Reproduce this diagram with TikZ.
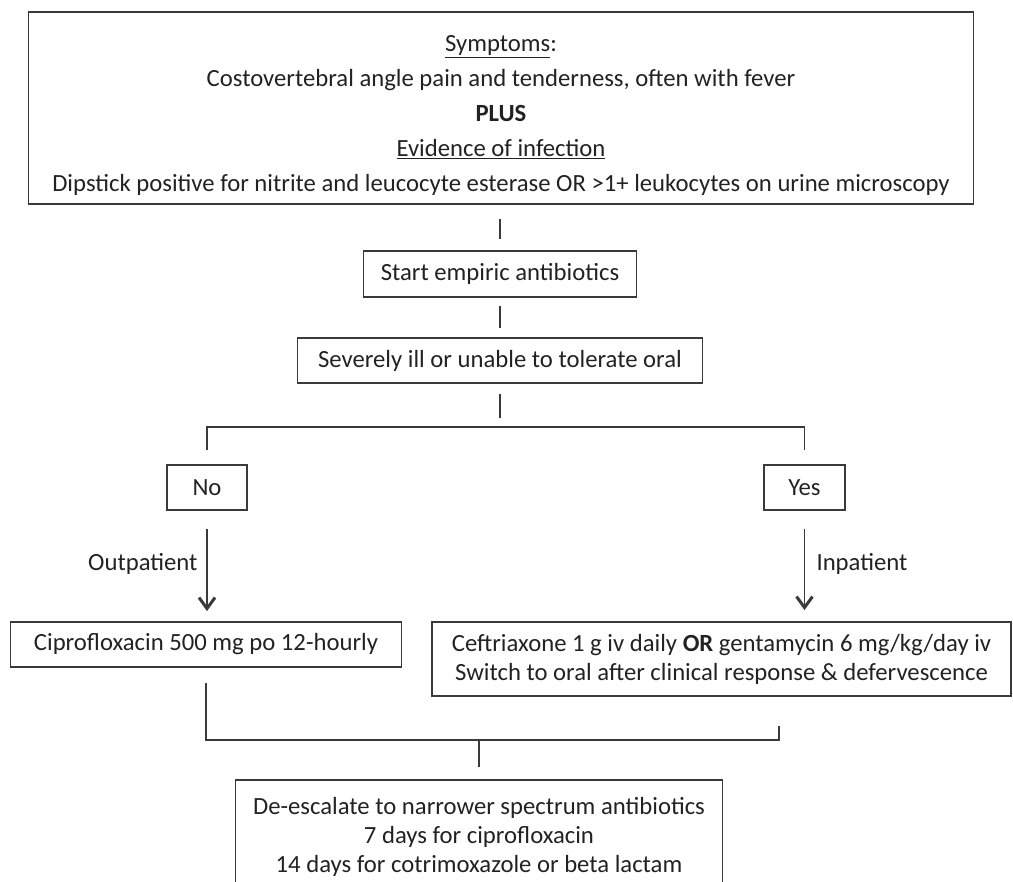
\documentclass[tikz,border=0pt]{standalone}
\usepackage{fontspec}
\setmainfont{Carlito}
\usepackage{xcolor}
\definecolor{ink}{HTML}{222222}
\definecolor{wire}{HTML}{3A3A3A}
\usetikzlibrary{arrows.meta, positioning, calc}

\begin{document}
\begin{tikzpicture}[x=1pt, y=-1pt,
  box/.style={draw=wire, line width=1.8pt, align=center, inner sep=0pt, text=ink},
  link/.style={draw=wire, line width=1.4pt},
  arr/.style={link, -{Straight Barb[length=11pt, width=16pt, line width=3pt]}},
  font=\fontsize{24.7}{29}\selectfont]
  \useasboundingbox (0,0) rectangle (1013,882);
  \clip (0,0) rectangle (1013,882);

  % Criteria
  \node[box, minimum width=945pt, minimum height=192pt] (crit) at (501,108)
    {\rule{0pt}{31pt}\underline{Symptoms}:\\[6pt]
     Costovertebral angle pain and tenderness, often with fever\\[6pt]
     \textbf{PLUS}\\[6pt]
     \underline{Evidence of infection}\\[6pt]
     Dipstick positive for nitrite and leucocyte esterase OR >1+ leukocytes on urine microscopy};

  % Decision steps
  \node[box, minimum width=273pt, minimum height=46pt] (start) at (500,274) {Start empiric antibiotics};
  \node[box, minimum width=405pt, minimum height=45pt] (severe) at (500,360.5) {Severely ill or unable to tolerate oral};
  \node[box, minimum width=80pt, minimum height=45pt] (no) at (207,487.5) {No};
  \node[box, minimum width=81pt, minimum height=45pt] (yes) at (804.5,487.5) {Yes};

  % Treatment
  \node[box, minimum width=391pt, minimum height=45pt] (cipro) at (206,644.5) {Ciprofloxacin 500 mg po 12-hourly};
  \node[box, minimum width=579pt, minimum height=74pt] (ceftri) at (721.5,659)
    {Ceftriaxone 1 g iv daily \textbf{OR} gentamycin 6 mg/kg/day iv\\
     Switch to oral after clinical response \& defervescence};
  \node[box, minimum width=487pt, minimum height=113pt] (final) at (479,836.5)
    {De-escalate to narrower spectrum antibiotics\\
     7 days for ciprofloxacin\\
     14 days for cotrimoxazole or beta lactam};

  % Labels
  \node[anchor=east, text=ink] (outlbl) at (201,564) {Outpatient};
  \node[anchor=west, text=ink] (inlbl) at (813,564) {Inpatient};

  % Connectors
  \coordinate (split) at (500,427);
  \coordinate (merge) at (479,740);
  \coordinate (rjoin) at (779,726);
  \draw[link, shorten <=14pt, shorten >=11pt] (crit.south -| start.north) -- (start.north);
  \draw[link, shorten <=8pt, shorten >=9pt] (start.south) -- (severe.north);
  \draw[link, shorten <=10pt, shorten >=9pt] (severe.south) -- (split);
  \draw[link, shorten <=14pt, shorten >=14pt] (no.north) |- (split) -| (yes.north);
  \draw[arr, shorten <=18pt, shorten >=10pt] (no.south) -- (no.south |- cipro.north);
  \draw[arr, shorten <=18pt, shorten >=11pt] (yes.south) -- (yes.south |- ceftri.north);
  \draw[link, shorten <=15pt] (cipro.south) |- (merge -| rjoin) -- (rjoin);
  \draw[link, shorten >=12pt] (merge) -- (final.north);
\end{tikzpicture}
\end{document}
